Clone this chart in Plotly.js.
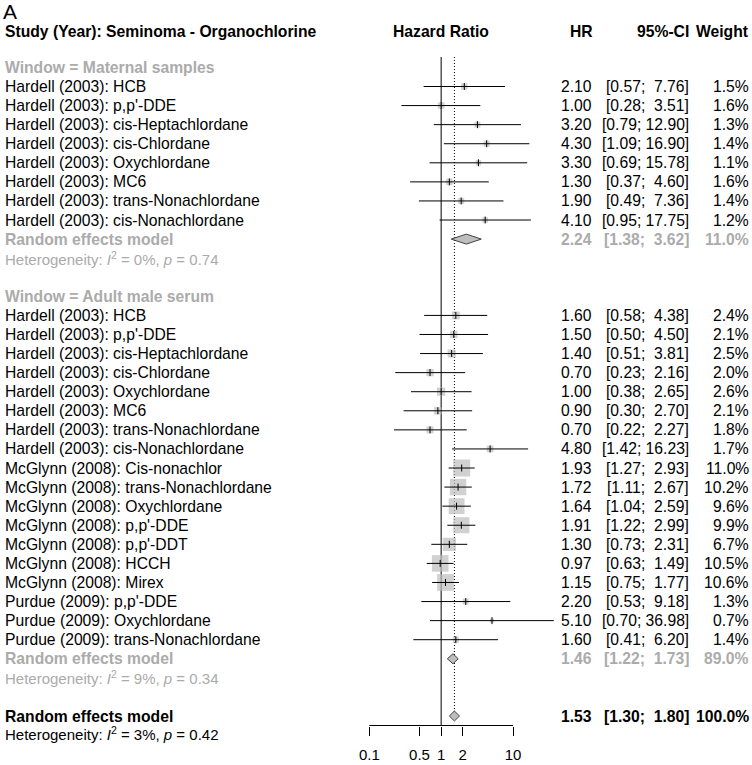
<!DOCTYPE html>
<html><head><meta charset="utf-8">
<script src="https://cdn.plot.ly/plotly-3.0.1.min.js"></script>
<style>body{margin:0;background:#fff}</style>
</head><body><div id="chart" style="width:752px;height:765px"></div>
<script>
// ---------- data ----------
const maternalStudies = ["Hardell (2003): HCB","Hardell (2003): p,p'-DDE","Hardell (2003): cis-Heptachlordane","Hardell (2003): cis-Chlordane","Hardell (2003): Oxychlordane","Hardell (2003): MC6","Hardell (2003): trans-Nonachlordane","Hardell (2003): cis-Nonachlordane"];
const maternalHR = [2.10,1.00,3.20,4.30,3.30,1.30,1.90,4.10];
const maternalLo = [0.57,0.28,0.79,1.09,0.69,0.37,0.49,0.95];
const maternalHi = [7.76,3.51,12.90,16.90,15.78,4.60,7.36,17.75];
const maternalW  = [1.5,1.6,1.3,1.4,1.1,1.6,1.4,1.2];

const adultStudies = ["Hardell (2003): HCB","Hardell (2003): p,p'-DDE","Hardell (2003): cis-Heptachlordane","Hardell (2003): cis-Chlordane","Hardell (2003): Oxychlordane","Hardell (2003): MC6","Hardell (2003): trans-Nonachlordane","Hardell (2003): cis-Nonachlordane","McGlynn (2008): Cis-nonachlor","McGlynn (2008): trans-Nonachlordane","McGlynn (2008): Oxychlordane","McGlynn (2008): p,p'-DDE","McGlynn (2008): p,p'-DDT","McGlynn (2008): HCCH","McGlynn (2008): Mirex","Purdue (2009): p,p'-DDE","Purdue (2009): Oxychlordane","Purdue (2009): trans-Nonachlordane"];
const adultHR = [1.60,1.50,1.40,0.70,1.00,0.90,0.70,4.80,1.93,1.72,1.64,1.91,1.30,0.97,1.15,2.20,5.10,1.60];
const adultLo = [0.58,0.50,0.51,0.23,0.38,0.30,0.22,1.42,1.27,1.11,1.04,1.22,0.73,0.63,0.75,0.53,0.70,0.41];
const adultHi = [4.38,4.50,3.81,2.16,2.65,2.70,2.27,16.23,2.93,2.67,2.59,2.99,2.31,1.49,1.77,9.18,36.98,6.20];
const adultW  = [2.4,2.1,2.5,2.0,2.6,2.1,1.8,1.7,11.0,10.2,9.6,9.9,6.7,10.5,10.6,1.3,0.7,1.4];

const groupLabels = ["Window = Maternal samples","Window = Adult male serum"];
const groupHR = [2.24,1.46];
const groupLo = [1.38,1.22];
const groupHi = [3.62,1.73];
const groupW  = [11.0,89.0];
const groupI2 = [0,9];
const groupP  = [0.74,0.34];

const overallHR = 1.53, overallLo = 1.30, overallHi = 1.80, overallW = 100.0, overallI2 = 3, overallP = 0.42;

const tickVals = [0.1,0.5,1,2,10];
const tickText = ["0.1","0.5","1","2","10"];

// ---------- layout constants ----------
const W = 752, H = 765;
const FONT = '"Liberation Sans", Arial, Helvetica, sans-serif';
const FS = 15.7;
const GRAY = '#ababab';
const ROW0 = 67.42, STEP = 19.076;         // pixel of row 0, row spacing
const PLOT_BOTTOM = 726;
const rowOf = px => (px - ROW0) / STEP;

function fmtCI(lo, hi) {
  const pad = hi < 10 ? '\u00a0\u00a0' : '\u00a0';
  return '[' + lo.toFixed(2) + ';' + pad + hi.toFixed(2) + ']';
}

const ann = [];
function txt(text, xpx, row, anchor, opts) {
  ann.push(Object.assign({
    text: text, x: xpx / W, y: row, xref: 'paper', yref: 'y',
    xanchor: anchor, yanchor: 'middle', showarrow: false,
    borderpad: 0, borderwidth: 0,
    font: {family: FONT, size: FS, color: '#000'}
  }, opts || {}));
}
function colTexts(row, hrv, lo, hi, w, color, bold) {
  const b = s => bold ? '<b>' + s + '</b>' : s;
  const f = {family: FONT, size: FS, color: color};
  txt(b(hrv.toFixed(2)), 591.7, row, 'right', {font: f});
  txt(b(fmtCI(lo, hi)), 689, row, 'right', {font: f});
  txt(b(w.toFixed(1) + '%'), 748.7, row, 'right', {font: f});
}

// headers
txt('A', 2.5, rowOf(11), 'left', {font: {family: FONT, size: 21, color: '#000'}});
const hrow = rowOf(31);
txt('<b>Study (Year): Seminoma - Organochlorine</b>', 5, hrow, 'left');
txt('<b>Hazard Ratio</b>', 440.7, hrow, 'center');
txt('<b>HR</b>', 592.5, hrow, 'right');
txt('<b>95%-CI</b>', 689, hrow, 'right');
txt('<b>Weight</b>', 749, hrow, 'right');

// study rows
const sqX = [], sqY = [], sqS = [];
const ciX = [], ciY = [];
const diamonds = [];
const groups = [
  {studies: maternalStudies, hr: maternalHR, lo: maternalLo, hi: maternalHi, w: maternalW, start: 0},
  {studies: adultStudies, hr: adultHR, lo: adultLo, hi: adultHi, w: adultW, start: 12}
];
const hetFS = 15;
groups.forEach((g, gi) => {
  txt('<b>' + groupLabels[gi] + '</b>', 5, g.start, 'left', {font: {family: FONT, size: FS, color: GRAY}});
  g.studies.forEach((s, k) => {
    const r = g.start + 1 + k;
    txt(s, 5, r, 'left');
    colTexts(r, g.hr[k], g.lo[k], g.hi[k], g.w[k], '#000', false);
    sqX.push(g.hr[k]); sqY.push(r); sqS.push(17 * Math.sqrt(g.w[k] / 11.0));
    ciX.push(g.lo[k], g.hi[k], null); ciY.push(r, r, null);
  });
  const rr = g.start + 1 + g.studies.length;
  txt('<b>Random effects model</b>', 5, rr, 'left', {font: {family: FONT, size: FS, color: GRAY}});
  colTexts(rr, groupHR[gi], groupLo[gi], groupHi[gi], groupW[gi], GRAY, true);
  diamonds.push({hr: groupHR[gi], lo: groupLo[gi], hi: groupHi[gi], row: rr});
  txt('Heterogeneity: <i>I</i><sup>2</sup> = ' + groupI2[gi] + '%, <i>p</i> = ' + groupP[gi].toFixed(2),
      5, rr + 1, 'left', {font: {family: FONT, size: hetFS, color: GRAY}});
});
// overall
const orow = 34;
txt('<b>Random effects model</b>', 5, orow, 'left');
colTexts(orow, overallHR, overallLo, overallHi, overallW, '#000', true);
diamonds.push({hr: overallHR, lo: overallLo, hi: overallHi, row: orow});
ann.push({
  text: 'Heterogeneity: <i>I</i><sup>2</sup> = ' + overallI2 + '%, <i>p</i> = ' + overallP.toFixed(2),
  x: 5 / W, y: (PLOT_BOTTOM - 733) / PLOT_BOTTOM, xref: 'paper', yref: 'paper',
  xanchor: 'left', yanchor: 'middle', showarrow: false, borderpad: 0, borderwidth: 0,
  font: {family: FONT, size: hetFS, color: '#000'}
});

// ---------- traces ----------
const topRow = rowOf(57);
const bottomRow = rowOf(PLOT_BOTTOM);
const traces = [];
traces.push({x: [1, 1], y: [topRow, bottomRow], mode: 'lines', line: {color: '#000', width: 1}, hoverinfo: 'skip'});
traces.push({x: [overallHR, overallHR], y: [topRow, orow + 0.2], mode: 'lines', line: {color: '#000', width: 1, dash: '1px,2px'}, hoverinfo: 'skip'});
traces.push({x: [tickVals[0], tickVals[tickVals.length - 1]], y: [rowOf(PLOT_BOTTOM - 0.5), rowOf(PLOT_BOTTOM - 0.5)], mode: 'lines', line: {color: '#000', width: 1}, hoverinfo: 'skip'});
traces.push({x: sqX, y: sqY, mode: 'markers', marker: {symbol: 'square', size: sqS, color: '#bebebe', line: {width: 0}}, hoverinfo: 'skip'});
traces.push({x: ciX, y: ciY, mode: 'lines', line: {color: '#000', width: 1}, hoverinfo: 'skip'});
traces.push({x: sqX, y: sqY, mode: 'markers', marker: {symbol: 'line-ns-open', size: 5, color: '#000', line: {color: '#000', width: 1}}, hoverinfo: 'skip'});
const dh = 5 / STEP;
diamonds.forEach(d => {
  traces.push({x: [d.lo, d.hr, d.hi, d.hr, d.lo], y: [d.row, d.row - dh, d.row, d.row + dh, d.row],
    mode: 'lines', fill: 'toself', fillcolor: '#bebebe', line: {color: '#444', width: 1}, hoverinfo: 'skip'});
});

// x range so that 0.1 -> 369.3px and 10 -> 513px
const span = 2 * W / (513 - 369.3);
const xa = -1 - 369.3 * span / W;
const layout = {
  width: W, height: H,
  margin: {l: 0, r: 0, t: 0, b: H - PLOT_BOTTOM, pad: 0},
  paper_bgcolor: '#fff', plot_bgcolor: '#fff',
  showlegend: false,
  xaxis: {type: 'log', range: [xa, xa + span], domain: [0, 1], showgrid: false, zeroline: false, showline: false,
    tickvals: tickVals, ticktext: tickText, ticks: 'outside', ticklen: 9, tickwidth: 1, tickcolor: '#000',
    ticklabelstandoff: 6,
    tickfont: {family: FONT, size: 15, color: '#000'}, fixedrange: true},
  yaxis: {range: [bottomRow, rowOf(0)], visible: false, showgrid: false, zeroline: false, fixedrange: true},
  annotations: ann
};
Plotly.newPlot('chart', traces, layout, {staticPlot: true, displayModeBar: false});
</script></body></html>
